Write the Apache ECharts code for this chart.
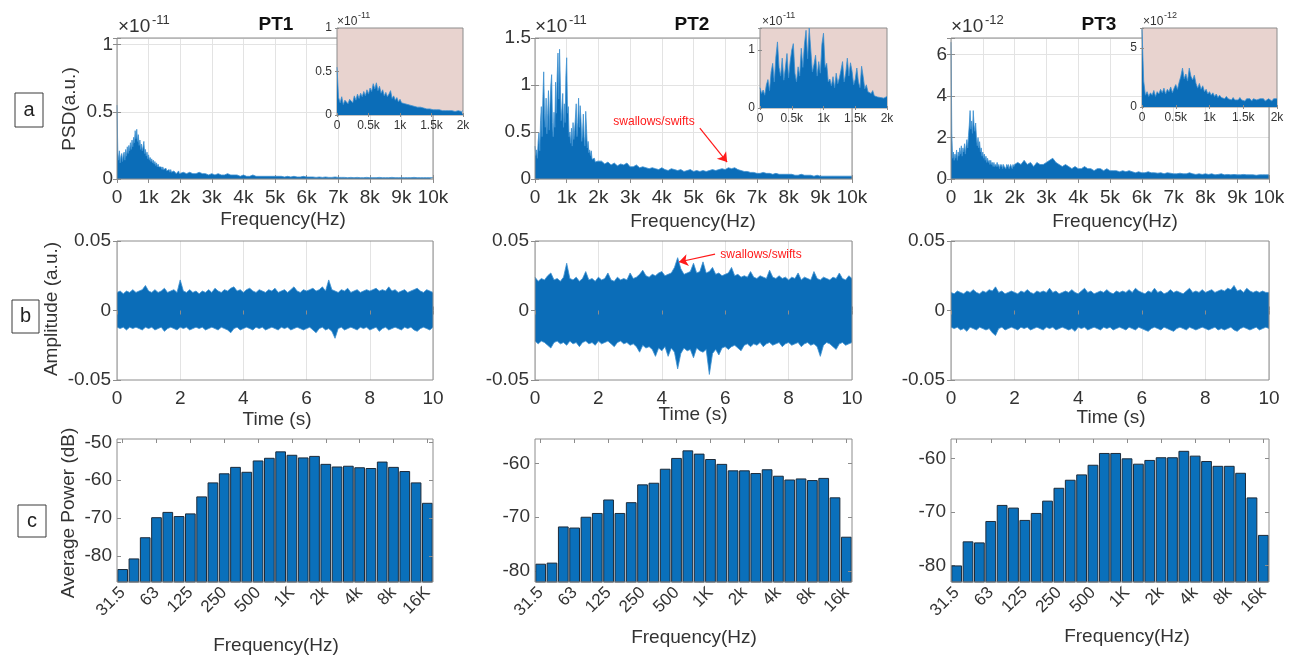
<!DOCTYPE html>
<html>
<head>
<meta charset="utf-8">
<title>PT1 / PT2 / PT3 acoustic summary</title>
<script src="https://cdn.jsdelivr.net/npm/echarts@6/dist/echarts.min.js"></script>
<style>
  html, body { margin: 0; padding: 0; background: #ffffff; }
  #chart { width: 1294px; height: 655px; }
</style>
</head>
<body>
<div id="chart"></div>
<script>
// ---------------- data ----------------
const sites = ['PT1', 'PT2', 'PT3'];

// PSD envelopes: 25 Hz steps from 0 to 2 kHz (81 values), then 100 Hz steps from 2.1 kHz to 10 kHz (80 values)
const psdPT1 = [ // ×1e-11
  0.55,0.20,0.14,0.21,0.12,0.17,0.19,0.13,0.18,0.20,
  0.14,0.22,0.17,0.24,0.19,0.25,0.21,0.27,0.22,0.29,
  0.24,0.31,0.27,0.36,0.30,0.37,0.28,0.33,0.25,0.29,
  0.22,0.26,0.21,0.24,0.28,0.19,0.22,0.17,0.20,0.15,
  0.18,0.14,0.16,0.13,0.15,0.12,0.14,0.11,0.13,0.10,
  0.12,0.09,0.11,0.09,0.10,0.08,0.09,0.07,0.09,0.07,
  0.08,0.06,0.08,0.06,0.07,0.06,0.07,0.05,0.07,0.05,
  0.06,0.05,0.06,0.05,0.06,0.04,0.05,0.05,0.06,0.04,
  0.05,
  0.05,0.04,0.05,0.04,0.04,0.05,0.04,0.04,0.03,0.04,
  0.03,0.04,0.03,0.03,0.04,0.03,0.03,0.03,0.02,0.03,
  0.02,0.02,0.03,0.02,0.02,0.02,0.02,0.02,0.02,0.02,
  0.02,0.02,0.015,0.02,0.015,0.02,0.015,0.015,0.02,0.015,
  0.015,0.015,0.012,0.015,0.012,0.015,0.012,0.012,0.015,0.012,
  0.012,0.012,0.01,0.012,0.01,0.012,0.01,0.01,0.012,0.01,
  0.01,0.01,0.012,0.01,0.01,0.01,0.012,0.01,0.01,0.01,
  0.01,0.01,0.01,0.012,0.01,0.01,0.01,0.01,0.01,0.01
];
const psdPT2 = [ // ×1e-11
  0.35,0.25,0.31,0.22,0.40,0.49,0.30,0.62,0.77,0.45,
  0.88,1.14,0.70,0.55,0.86,0.48,0.70,0.94,0.52,0.80,
  1.00,1.11,0.60,0.45,0.71,0.55,1.03,0.70,1.10,1.34,
  0.85,1.38,1.00,0.62,0.75,0.91,0.55,0.80,0.60,1.10,
  1.29,0.70,0.77,0.45,0.50,0.38,0.54,0.35,0.60,0.42,
  0.52,0.65,0.80,0.45,0.60,0.86,0.55,0.78,0.63,0.40,
  0.50,0.69,0.45,0.35,0.72,0.54,0.33,0.40,0.28,0.31,
  0.25,0.30,0.21,0.23,0.19,0.22,0.18,0.20,0.17,0.19,
  0.20,
  0.19,0.16,0.18,0.15,0.17,0.14,0.16,0.15,0.17,0.13,
  0.13,0.15,0.12,0.13,0.12,0.11,0.12,0.11,0.10,0.12,
  0.10,0.09,0.11,0.10,0.09,0.10,0.08,0.09,0.10,0.08,
  0.09,0.08,0.09,0.08,0.09,0.10,0.09,0.10,0.11,0.10,
  0.12,0.11,0.12,0.10,0.09,0.08,0.08,0.07,0.07,0.06,
  0.06,0.07,0.06,0.06,0.05,0.06,0.05,0.05,0.05,0.05,
  0.05,0.04,0.04,0.05,0.04,0.04,0.04,0.03,0.04,0.03,
  0.03,0.03,0.03,0.03,0.03,0.03,0.03,0.03,0.03,0.03
];
const psdPT3 = [ // ×1e-12
  6.6,2.2,1.0,1.3,0.9,1.2,1.0,1.4,0.9,1.3,
  1.1,1.5,1.2,1.6,1.1,1.5,1.3,1.7,1.2,1.6,
  1.9,1.5,2.1,2.6,3.3,2.4,2.8,2.2,3.3,2.6,
  2.3,2.7,2.0,1.6,2.0,1.5,1.8,1.3,1.5,1.1,
  1.3,1.0,1.2,0.9,1.1,0.8,1.0,0.8,0.9,0.7,
  0.9,0.7,0.8,0.6,0.8,0.6,0.7,0.6,0.8,0.6,
  0.7,0.5,0.7,0.6,0.7,0.5,0.7,0.6,0.6,0.5,
  0.7,0.6,0.7,0.5,0.6,0.7,0.6,0.5,0.7,0.6,
  0.7,
  0.8,0.7,0.9,0.7,0.8,0.6,0.8,0.7,0.7,0.8,
  0.9,1.0,0.8,0.7,0.6,0.7,0.6,0.5,0.6,0.5,
  0.5,0.6,0.5,0.5,0.4,0.5,0.5,0.4,0.5,0.4,
  0.4,0.4,0.35,0.4,0.35,0.4,0.35,0.3,0.35,0.3,
  0.3,0.35,0.3,0.3,0.28,0.3,0.25,0.3,0.28,0.25,
  0.25,0.28,0.25,0.25,0.3,0.25,0.22,0.25,0.22,0.25,
  0.22,0.25,0.2,0.22,0.25,0.2,0.22,0.2,0.22,0.2,
  0.2,0.22,0.2,0.2,0.2,0.18,0.2,0.2,0.2,0.2
];

// Waveform envelopes, one value every 0.1 s from 0 to 10 s (101 values)
const wavePT1Upper = [
  .013,.014,.012,.014,.013,.015,.013,.014,.015,.018,
  .014,.013,.015,.013,.014,.016,.013,.014,.015,.013,
  .022,.014,.013,.015,.013,.014,.012,.014,.013,.015,
  .013,.016,.014,.013,.015,.014,.016,.017,.014,.015,
  .013,.015,.016,.014,.013,.015,.014,.013,.015,.014,
  .016,.013,.014,.015,.013,.015,.017,.014,.013,.015,
  .014,.015,.016,.014,.015,.017,.014,.022,.015,.014,
  .013,.015,.014,.016,.013,.014,.015,.013,.014,.015,
  .014,.015,.016,.014,.015,.014,.017,.014,.015,.013,
  .014,.015,.013,.014,.015,.016,.014,.013,.015,.014,
  .013
];
const wavePT1Lower = [
  -.012,-.013,-.012,-.014,-.012,-.013,-.012,-.013,-.014,-.012,
  -.013,-.012,-.014,-.013,-.012,-.015,-.013,-.012,-.013,-.014,
  -.012,-.013,-.012,-.014,-.013,-.012,-.013,-.012,-.014,-.013,
  -.012,-.013,-.014,-.012,-.013,-.014,-.016,-.013,-.012,-.014,
  -.013,-.012,-.013,-.014,-.012,-.013,-.012,-.014,-.013,-.012,
  -.013,-.014,-.012,-.013,-.012,-.014,-.013,-.012,-.013,-.014,
  -.013,-.012,-.014,-.016,-.013,-.012,-.014,-.013,-.015,-.020,
  -.013,-.012,-.014,-.013,-.012,-.013,-.014,-.012,-.013,-.012,
  -.014,-.013,-.012,-.015,-.013,-.012,-.014,-.013,-.012,-.013,
  -.014,-.012,-.013,-.012,-.014,-.015,-.013,-.012,-.013,-.014,
  -.012
];
const wavePT2Upper = [
  .024,.021,.023,.022,.025,.027,.022,.023,.021,.024,
  .034,.023,.022,.024,.021,.023,.028,.022,.023,.021,
  .024,.022,.023,.027,.022,.021,.024,.022,.023,.022,
  .027,.023,.024,.026,.029,.025,.024,.026,.025,.027,
  .028,.025,.026,.027,.031,.038,.030,.026,.027,.028,
  .034,.027,.028,.035,.027,.028,.031,.026,.027,.025,
  .026,.027,.031,.025,.026,.024,.025,.024,.028,.024,
  .023,.025,.024,.023,.029,.024,.023,.025,.023,.024,
  .022,.024,.023,.027,.022,.024,.023,.022,.028,.023,
  .022,.024,.023,.022,.024,.023,.027,.023,.022,.025,
  .023
];
const wavePT2Lower = [
  -.022,-.024,-.022,-.023,-.025,-.027,-.023,-.022,-.024,-.023,
  -.025,-.022,-.024,-.023,-.026,-.023,-.022,-.024,-.023,-.025,
  -.022,-.024,-.023,-.022,-.024,-.026,-.023,-.022,-.024,-.023,
  -.025,-.024,-.026,-.030,-.025,-.027,-.026,-.028,-.033,-.027,
  -.029,-.026,-.033,-.027,-.030,-.042,-.031,-.027,-.029,-.028,
  -.034,-.027,-.029,-.030,-.028,-.046,-.031,-.028,-.032,-.027,
  -.026,-.028,-.026,-.025,-.027,-.029,-.025,-.024,-.026,-.024,
  -.025,-.023,-.026,-.024,-.023,-.025,-.024,-.023,-.026,-.024,
  -.023,-.025,-.024,-.023,-.026,-.024,-.023,-.025,-.024,-.026,
  -.033,-.025,-.023,-.024,-.026,-.028,-.024,-.023,-.025,-.024,
  -.023
];
const wavePT3Upper = [
  .013,.012,.014,.013,.012,.014,.013,.015,.013,.012,
  .014,.013,.015,.014,.017,.013,.014,.012,.013,.014,
  .013,.012,.014,.013,.015,.013,.012,.014,.013,.014,
  .013,.016,.013,.014,.012,.013,.014,.013,.015,.013,
  .012,.014,.016,.013,.014,.012,.013,.014,.013,.015,
  .013,.012,.014,.013,.014,.013,.015,.013,.016,.014,
  .013,.012,.014,.013,.016,.013,.014,.012,.013,.015,
  .013,.014,.013,.012,.014,.016,.013,.014,.013,.015,
  .013,.014,.015,.013,.014,.015,.014,.016,.015,.018,
  .014,.015,.013,.016,.014,.013,.014,.013,.014,.013,
  .013
];
const wavePT3Lower = [
  -.012,-.013,-.012,-.014,-.013,-.015,-.012,-.013,-.014,-.012,
  -.013,-.014,-.013,-.016,-.018,-.013,-.012,-.014,-.013,-.012,
  -.013,-.014,-.012,-.013,-.012,-.014,-.013,-.012,-.013,-.014,
  -.012,-.013,-.012,-.014,-.013,-.012,-.013,-.014,-.013,-.015,
  -.012,-.013,-.012,-.014,-.013,-.012,-.013,-.014,-.012,-.013,
  -.012,-.014,-.013,-.012,-.013,-.014,-.012,-.013,-.014,-.012,
  -.013,-.014,-.015,-.013,-.012,-.013,-.014,-.012,-.013,-.014,
  -.015,-.013,-.012,-.013,-.014,-.012,-.013,-.014,-.013,-.012,
  -.013,-.014,-.013,-.012,-.014,-.013,-.014,-.013,-.012,-.014,
  -.015,-.013,-.012,-.013,-.014,-.013,-.012,-.014,-.013,-.012,
  -.013
];

// One-third-octave band levels (dB), 31.5 Hz to 16 kHz
const bandNames = ['31.5','40','50','63','80','100','125','160','200','250','315','400','500','630',
  '800','1K','1.25k','1.6k','2k','2.5k','3.15k','4k','5k','6.3k','8k','10k','12.5k','16k'];
const bandPT1 = [-83.6,-80.8,-75.2,-69.9,-68.5,-69.6,-68.9,-64.4,-60.7,-58.3,-56.6,-57.9,-54.9,-54.2,
  -52.5,-53.4,-54.1,-53.7,-55.8,-56.5,-56.3,-56.7,-56.9,-55.2,-56.6,-57.7,-60.7,-66.1];
const bandPT2 = [-78.7,-78.5,-71.8,-72.0,-70.0,-69.3,-66.8,-69.3,-67.3,-64.0,-63.7,-61.1,-59.1,-57.7,
  -58.3,-59.3,-60.2,-61.4,-61.4,-61.9,-61.2,-62.4,-63.1,-62.9,-63.2,-62.8,-66.4,-73.7];
const bandPT3 = [-80.1,-75.6,-75.8,-71.8,-68.8,-69.3,-71.6,-70.3,-68.0,-65.6,-64.1,-63.1,-61.3,-59.1,
  -59.1,-60.1,-61.1,-60.4,-59.9,-59.9,-58.7,-59.6,-60.6,-61.5,-61.5,-62.8,-67.4,-74.4];

// Tick labels
const psdXLabels = ['0','1k','2k','3k','4k','5k','6k','7k','8k','9k','10k'];
const insetXLabels = ['0','0.5k','1k','1.5k','2k'];
const psdYLabels = [['0','0.5','1'], ['0','0.5','1','1.5'], ['0','2','4','6']];
const insetYLabels = [['0','0.5','1'], ['0','1'], ['0','5']];
const psdExponent = ['-11', '-11', '-12'];
const waveXLabels = ['0','2','4','6','8','10'];
const waveYLabels = ['-0.05','0','0.05'];
const octaveLabels = [
  ['31.5','63','125','250','500','1K','2k','4k','8k','16K'],
  ['31.5','63','125','250','500','1K','2k','4k','8k','16k'],
  ['31.5','63','125','250','500','1K','2k','4k','8k','16k']
];
const bandYTicks = [[-80,-70,-60,-50], [-80,-70,-60], [-80,-70,-60]];

// Axis ranges
const psdYMax = [1.05, 1.5, 6.8], psdYStep = [0.5, 0.5, 2];
const insetYMax = [1.0, 1.38, 6.7], insetYStep = [0.5, 1, 5];
const bandYRange = [[-86.9, -49.1], [-82.0, -55.5], [-83.1, -56.4]];

// Red call-outs on PT2 (data coordinates)
const calloutText = 'swallows/swifts';
const psdArrow = [[5200, 0.54], [6060, 0.18]];
const waveArrow = [[5.68, 0.0406], [4.54, 0.0349]];

// ---------------- sampling grids ----------------
const psdFreqs = [];
for (let f = 0; f <= 2000; f += 25) psdFreqs.push(f);
for (let f = 2100; f <= 10000; f += 100) psdFreqs.push(f);
const waveTimes = wavePT1Upper.map((_, i) => i / 10);

const psdData = [psdPT1, psdPT2, psdPT3];
const waveUpper = [wavePT1Upper, wavePT2Upper, wavePT3Upper];
const waveLower = [wavePT1Lower, wavePT2Lower, wavePT3Lower];
const bandData = [bandPT1, bandPT2, bandPT3];

// ---------------- styling / layout ----------------
const FONT = "'Liberation Sans', Arial, Helvetica, sans-serif";
const TXT = '#333333';
const BOX = '#8c8c8c';
const GRIDC = '#e3e3e3';
const BLUE = '#0b6db8';
const EDGE = '#3d91d1';
const PINK = '#e8d3cf';

const colLeft = [117, 535, 951];
const colWidth = [316, 317, 318];
const rowPsd = { top: 38, height: 141 };
const rowWave = { top: 241, height: 139 };
const rowBand = { top: 439, height: 143 };
const insetBox = [
  { left: 337, top: 28, width: 126, height: 87 },
  { left: 760, top: 28, width: 127, height: 80 },
  { left: 1142, top: 28, width: 135, height: 79 }
];

const grids = [], xAxes = [], yAxes = [], series = [], graphics = [];

function ticks(len, extra) {
  return Object.assign({ show: true, inside: true, length: len, lineStyle: { color: BOX, width: 1 } }, extra || {});
}
function labelFrom(list, step, offset) {
  return v => { const k = Math.round(v / step) + (offset || 0); const s = list[k]; return (s !== undefined && Math.abs(v - (k - (offset || 0)) * step) < step * 1e-6) ? s : ''; };
}

// a framed plot: labelled bottom/left axes plus mirrored top/right axes carrying only inward ticks
function addPanel(p) {
  const gi = grids.length;
  grids.push({ left: p.box.left, top: p.box.top, width: p.box.width, height: p.box.height,
    show: true, borderColor: BOX, borderWidth: 1, backgroundColor: p.bg || 'transparent', z: p.gridZ });
  const xi = xAxes.length, yi = yAxes.length;
  xAxes.push(Object.assign({}, p.x, { gridIndex: gi, position: 'bottom', z: p.axisZ,
    axisLine: { show: false }, axisTick: ticks(p.tick, p.xTick), axisLabel: p.xLabel,
    splitLine: { show: !!p.xSplit, lineStyle: { color: GRIDC, width: 1 } } }));
  xAxes.push(Object.assign({}, p.x, { gridIndex: gi, position: 'top', z: p.boxZ,
    axisLine: { show: false }, axisTick: ticks(p.tick, p.xTick), axisLabel: { show: false }, splitLine: { show: false } }));
  yAxes.push(Object.assign({}, p.y, { gridIndex: gi, position: 'left', z: p.axisZ,
    axisLine: { show: false }, axisTick: ticks(p.tick, p.yTick), axisLabel: p.yLabel,
    splitLine: { show: !!p.ySplit, lineStyle: { color: GRIDC, width: 1 } } }));
  yAxes.push(Object.assign({}, p.y, { gridIndex: gi, position: 'right', z: p.boxZ,
    axisLine: { show: false }, axisTick: ticks(p.tick, p.yTick), axisLabel: { show: false }, splitLine: { show: false } }));
  return { xi, yi };
}

const mainLabel = (extra) => Object.assign({ color: TXT, fontFamily: FONT, fontSize: 19 }, extra);
const smallLabel = (extra) => Object.assign({ color: TXT, fontFamily: FONT, fontSize: 12 }, extra);

function areaSeries(xi, yi, data, z, markLine, origin) {
  const s = { type: 'line', xAxisIndex: xi, yAxisIndex: yi, data, symbol: 'none', showSymbol: false,
    lineStyle: { color: EDGE, width: 0.8 }, areaStyle: { color: BLUE, opacity: 1 },
    z, silent: true, animation: false };
  if (origin !== undefined) s.areaStyle.origin = origin;
  if (markLine) s.markLine = markLine;
  return s;
}
function arrow(from, to) {
  return { silent: true, animation: false, symbol: ['none', 'arrow'], symbolSize: 9,
    lineStyle: { color: '#ff1a1a', width: 1.2, type: 'solid' }, label: { show: false },
    data: [[{ coord: from }, { coord: to }]] };
}

// band bars rise from the bottom of the plot frame to each level
function bandBar(params, api) {
  const top = api.coord([api.value(0), api.value(1)]);
  const cs = params.coordSys;
  const w = api.size([1, 0])[0] * 0.86;
  return { type: 'rect', shape: { x: top[0] - w / 2, y: top[1], width: w, height: cs.y + cs.height - top[1] },
    style: { fill: '#0a70bb', stroke: '#1d2b3a', lineWidth: 1 } };
}

for (let c = 0; c < 3; c++) {
  // ---- row a: power spectral density ----
  const a = addPanel({
    box: { left: colLeft[c], top: rowPsd.top, width: colWidth[c], height: rowPsd.height },
    gridZ: 3, axisZ: 0, boxZ: 3, tick: 4,
    x: { type: 'value', min: 0, max: 10000, interval: 1000 },
    y: { type: 'value', min: 0, max: psdYMax[c], interval: psdYStep[c] },
    xLabel: mainLabel({ margin: 9, formatter: labelFrom(psdXLabels, 1000) }),
    yLabel: mainLabel({ margin: 4, formatter: labelFrom(psdYLabels[c], psdYStep[c]) }),
    xSplit: true, ySplit: true
  });
  const psdPairs = psdFreqs.map((f, i) => [f, psdData[c][i]]);
  series.push(areaSeries(a.xi, a.yi, psdPairs, 2, c === 1 ? arrow(psdArrow[0], psdArrow[1]) : null));

  // inset: 0-2 kHz detail
  const ins = addPanel({
    box: insetBox[c], bg: PINK, gridZ: 10, axisZ: 12, boxZ: 12, tick: 2,
    x: { type: 'value', min: 0, max: 2000, interval: 500 },
    y: { type: 'value', min: 0, max: insetYMax[c], interval: insetYStep[c] },
    xLabel: smallLabel({ margin: 5, formatter: labelFrom(insetXLabels, 500) }),
    yLabel: smallLabel({ margin: 5, formatter: labelFrom(insetYLabels[c], insetYStep[c]) }),
    xSplit: false, ySplit: false
  });
  series.push(areaSeries(ins.xi, ins.yi, psdPairs.filter(p => p[0] <= 2000), 11));

  // ---- row b: waveform ----
  const b = addPanel({
    box: { left: colLeft[c], top: rowWave.top, width: colWidth[c], height: rowWave.height },
    gridZ: 3, axisZ: 0, boxZ: 3, tick: 4,
    x: { type: 'value', min: 0, max: 10, interval: 2 },
    y: { type: 'value', min: -0.05, max: 0.05, interval: 0.05 },
    xLabel: mainLabel({ margin: 9, formatter: labelFrom(waveXLabels, 2) }),
    yLabel: mainLabel({ margin: 6, formatter: labelFrom(waveYLabels, 0.05, 1) }),
    xSplit: true, ySplit: false
  });
  // lower envelope fills up to zero; upper envelope fill starts a little below zero so the two overlap seamlessly
  series.push(areaSeries(b.xi, b.yi, waveTimes.map((t, i) => [t, waveLower[c][i]]), 2));
  series.push(areaSeries(b.xi, b.yi, waveTimes.map((t, i) => [t, waveUpper[c][i]]), 2,
    c === 1 ? arrow(waveArrow[0], waveArrow[1]) : null, -0.004));

  // ---- row c: one-third-octave band power ----
  const octaveOnly = (idx) => idx % 3 === 0;
  const labels = octaveLabels[c];
  const d = addPanel({
    box: { left: colLeft[c], top: rowBand.top, width: colWidth[c], height: rowBand.height },
    gridZ: 3, axisZ: 0, boxZ: 3, tick: 4,
    x: { type: 'category', data: bandNames, boundaryGap: true },
    y: { type: 'value', min: bandYRange[c][0], max: bandYRange[c][1] },
    xTick: { alignWithLabel: true, interval: octaveOnly },
    yTick: { customValues: bandYTicks[c] },
    xLabel: mainLabel({ fontSize: 17, rotate: 45, margin: 8, interval: octaveOnly,
      formatter: (v, idx) => (idx % 3 === 0 ? labels[idx / 3] : '') }),
    yLabel: mainLabel({ margin: 5, customValues: bandYTicks[c],
      formatter: v => (Math.abs(v % 10) < 1e-6 ? String(v) : '') }),
    xSplit: false, ySplit: false
  });
  series.push({ type: 'custom', xAxisIndex: d.xi, yAxisIndex: d.yi, renderItem: bandBar,
    data: bandData[c].map((v, i) => [i, v]), encode: { x: 0, y: 1 }, z: 2, silent: true, animation: false });
}

// ---------------- text ----------------
function text(x, y, s, size, opt) {
  opt = opt || {};
  graphics.push({ type: 'text', x, y, z: 100, silent: true, rotation: opt.rotation || 0,
    style: { text: s, fontSize: size, fontFamily: FONT, fontWeight: opt.bold ? 'bold' : 'normal',
      fill: opt.color || TXT, align: opt.align || 'center', verticalAlign: 'middle' } });
}
function letterBox(x, y, w, h, s) {
  graphics.push({ type: 'rect', z: 100, silent: true, shape: { x, y, width: w, height: h },
    style: { fill: '#ffffff', stroke: '#3a3a3a', lineWidth: 1 } });
  text(x + w / 2, y + h / 2, s, 20, { color: '#222' });
}

const titleX = [276, 692, 1099];
const psdXNameX = [283, 693, 1115], psdXNameY = [220, 222, 222];
const waveXNameX = [277, 693, 1111], waveXNameY = [420, 415, 418];
const bandXNameX = [276, 694, 1127], bandXNameY = [646, 638, 637];
const mainExpX = [118, 535, 951];
const insetExpX = [337, 762, 1143];

for (let c = 0; c < 3; c++) {
  text(titleX[c], 25, sites[c], 19, { bold: true, color: '#111' });
  text(mainExpX[c], 27, '\u00d710', 19, { align: 'left' });
  text(mainExpX[c] + 34, 20, psdExponent[c], 13, { align: 'left' });
  text(insetExpX[c], 22, '\u00d710', 12, { align: 'left' });
  text(insetExpX[c] + 21, 16, psdExponent[c], 9, { align: 'left' });
  text(psdXNameX[c], psdXNameY[c], 'Frequency(Hz)', 19);
  text(waveXNameX[c], waveXNameY[c], 'Time (s)', 19);
  text(bandXNameX[c], bandXNameY[c], 'Frequency(Hz)', 19);
}
text(70, 109, 'PSD(a.u.)', 19, { rotation: Math.PI / 2 });
text(52, 309, 'Amplitude (a.u.)', 19, { rotation: Math.PI / 2 });
text(69, 513, 'Average Power (dB)', 19, { rotation: Math.PI / 2 });

letterBox(15, 93, 28, 34, 'a');
letterBox(12, 300, 27, 33, 'b');
letterBox(18, 505, 28, 32, 'c');

text(654, 122, calloutText, 12, { color: '#ff1a1a' });
text(761, 255, calloutText, 12, { color: '#ff1a1a' });

// ---------------- chart ----------------
const chart = echarts.init(document.getElementById('chart'), null, { renderer: 'canvas' });
chart.setOption({
  animation: false,
  backgroundColor: '#ffffff',
  textStyle: { fontFamily: FONT },
  grid: grids,
  xAxis: xAxes,
  yAxis: yAxes,
  series: series,
  graphic: graphics
});
</script>
</body>
</html>
